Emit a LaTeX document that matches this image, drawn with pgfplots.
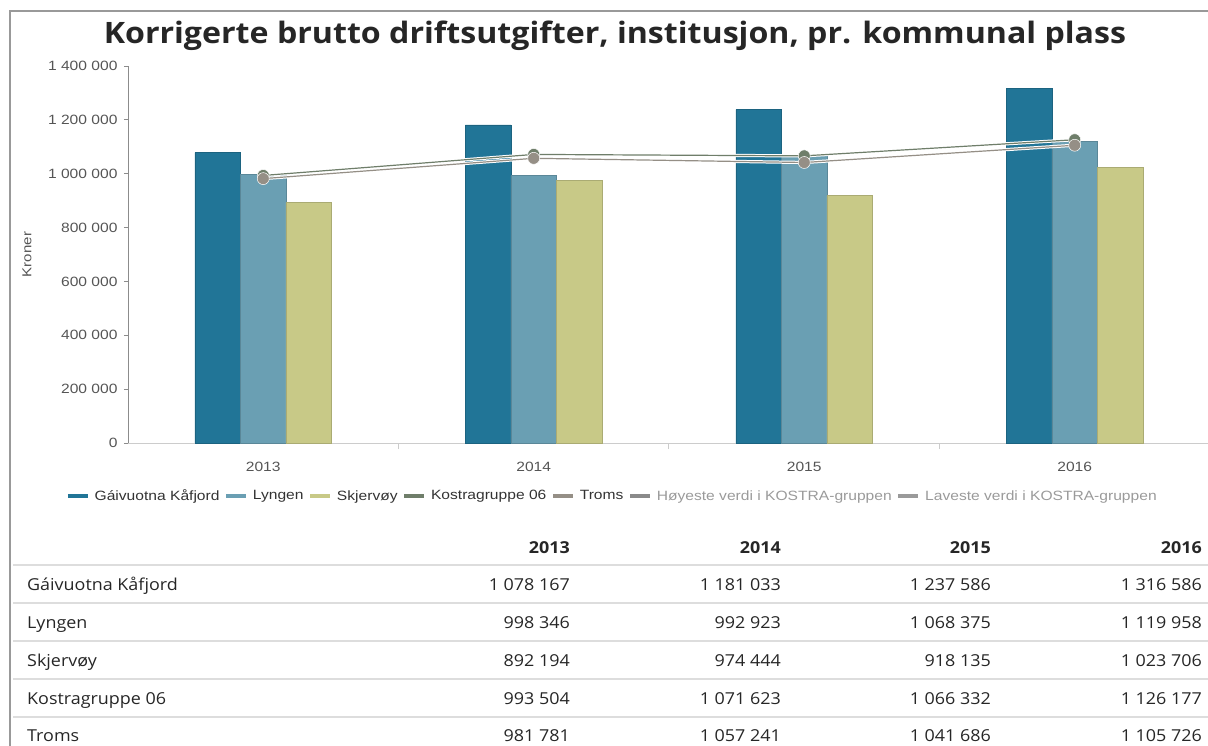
\documentclass[border=0pt]{standalone}
\usepackage{pgfplots}
\pgfplotsset{compat=1.18}
\usepackage{pgfplotstable}
\usepackage{fontspec}
\setmainfont{Liberation Sans}[FakeStretch=1.16]
\newfontfamily\osans{Open Sans}[FakeStretch=1.09]

\definecolor{gaiv}{HTML}{217597}
\definecolor{lyng}{HTML}{6A9FB3}
\definecolor{skj}{HTML}{C8C987}
\definecolor{kos}{HTML}{6F7E6A}
\definecolor{tro}{HTML}{958F86}
\definecolor{hoy}{HTML}{8A8A8A}
\definecolor{lav}{HTML}{9A9A9A}
\definecolor{txt}{HTML}{555555}
\definecolor{rule}{HTML}{DDDDDD}

% i = year index (0 = 2013)
\pgfplotstableread{
i   kaa     lyn     skj     kos     tro
0   1078167 998346  892194  993504  981781
1   1181033 992923  974444  1071623 1057241
2   1237586 1068375 918135  1066332 1041686
3   1316586 1119958 1023706 1126177 1105726
}\data

\begin{document}
\begin{tikzpicture}
\path[use as bounding box] (0bp,0bp) rectangle (1208bp,-746bp);
\draw[black!40, line width=2bp] (10bp,-746bp) -- (10bp,-11bp) -- (1208bp,-11bp);
\node[anchor=base, font=\osans\bfseries\fontsize{29.6}{36}\selectfont, text=black!85] at (615bp,-43bp)
  {Korrigerte brutto driftsutgifter, institusjon, pr. kommunal plass};

\begin{axis}[
  at={(128bp,-443bp)}, anchor=south west,
  scale only axis, width=1082bp, height=377bp,
  xmin=-0.5, xmax=3.5, ymin=0, ymax=1400000,
  axis lines*=left,
  x axis line style={draw=black!20, line width=1bp},
  y axis line style={draw=black!45, line width=1bp},
  xtick={0,1,2,3}, xticklabels={2013,2014,2015,2016},
  minor xtick={0.5,1.5,2.5},
  ytick={0,200000,...,1400000},
  yticklabels={0,200 000,400 000,600 000,800 000,1 000 000,1 200 000,1 400 000},
  scaled y ticks=false,
  tick align=outside,
  major x tick style={draw=none},
  minor x tick style={draw=black!20, line width=1bp},
  major y tick style={draw=black!45, line width=1bp},
  major tick length=4bp, minor tick length=6bp,
  tick label style={font=\fontsize{13.5}{16}\selectfont, text=txt},
  xticklabel style={yshift=-12bp},
  yticklabel style={xshift=-3bp},
  /pgf/number format/assume math mode=true,
  ylabel={Kroner},
  ylabel style={font=\fontsize{13}{15}\selectfont, text=txt,
    at={(axis description cs:-0.0933,0.5)}, anchor=center},
  legend columns=-1,
  legend style={at={(0.449,-0.1405)}, anchor=center, draw=none, fill=none,
    font=\fontsize{13.5}{16}\selectfont, text=black!80,
    nodes={inner xsep=4.8bp, inner ysep=1bp},
    /tikz/every even column/.append style={column sep=0bp}},
  legend image code/.code={\draw[#1, line width=3.8bp] (0bp,0bp) -- (20bp,0bp);},
]
\addplot[ybar, bar width=45.5bp, bar shift=-45.5bp, fill=gaiv, draw=gaiv!85!black, line width=0.6bp, forget plot]
  table[x=i, y=kaa]{\data};
\addplot[ybar, bar width=45.5bp, bar shift=0bp, fill=lyng, draw=lyng!85!black, line width=0.6bp, forget plot]
  table[x=i, y=lyn]{\data};
\addplot[ybar, bar width=45.5bp, bar shift=45.5bp, fill=skj, draw=skj!85!black, line width=0.6bp, forget plot]
  table[x=i, y=skj]{\data};

\addplot[white, line width=3.2bp, forget plot] table[x=i, y=kos]{\data};
\addplot[kos, line width=1.2bp, mark=*, mark size=6bp,
  mark options={fill=kos, draw=white, line width=0.5bp}, forget plot] table[x=i, y=kos]{\data};
\addplot[white, line width=3.2bp, forget plot] table[x=i, y=tro]{\data};
\addplot[tro, line width=1.2bp, mark=*, mark size=6bp,
  mark options={fill=tro, draw=white, line width=0.5bp}, forget plot] table[x=i, y=tro]{\data};

\addlegendimage{gaiv}\addlegendentry{Gáivuotna Kåfjord}
\addlegendimage{lyng}\addlegendentry{Lyngen}
\addlegendimage{skj}\addlegendentry{Skjervøy}
\addlegendimage{kos}\addlegendentry{Kostragruppe 06}
\addlegendimage{tro}\addlegendentry{Troms}
\addlegendimage{hoy}\addlegendentry{\textcolor{lav}{Høyeste verdi i KOSTRA-gruppen}}
\addlegendimage{lav}\addlegendentry{\textcolor{lav}{Laveste verdi i KOSTRA-gruppen}}
\end{axis}

% table below the chart
\foreach \yy in {565,603,641,679,717}
  \draw[rule, line width=2bp] (13bp,-\yy bp) -- (1208bp,-\yy bp);
\begin{scope}[every node/.style={font=\osans\fontsize{16.5}{20}\selectfont, text=black!85, inner sep=0pt}]
\foreach \xx/\yr in {570/2013,781/2014,991/2015,1202/2016}
  \node[anchor=base east, font=\osans\bfseries\fontsize{16.5}{20}\selectfont] at (\xx bp,-553bp) {\yr};
\foreach \yy/\lab in {590/Gáivuotna Kåfjord,628/Lyngen,666/Skjervøy,704/Kostragruppe 06,741/Troms}
  \node[anchor=base west] at (27bp,-\yy bp) {\lab};
\foreach \yy/\a/\b/\c/\d in {
  590/1 078 167/1 181 033/1 237 586/1 316 586,
  628/998 346/992 923/1 068 375/1 119 958,
  666/892 194/974 444/918 135/1 023 706,
  704/993 504/1 071 623/1 066 332/1 126 177,
  741/981 781/1 057 241/1 041 686/1 105 726}{
  \node[anchor=base east] at (570bp,-\yy bp) {\a};
  \node[anchor=base east] at (781bp,-\yy bp) {\b};
  \node[anchor=base east] at (991bp,-\yy bp) {\c};
  \node[anchor=base east] at (1202bp,-\yy bp) {\d};
}
\end{scope}
\end{tikzpicture}
\end{document}
